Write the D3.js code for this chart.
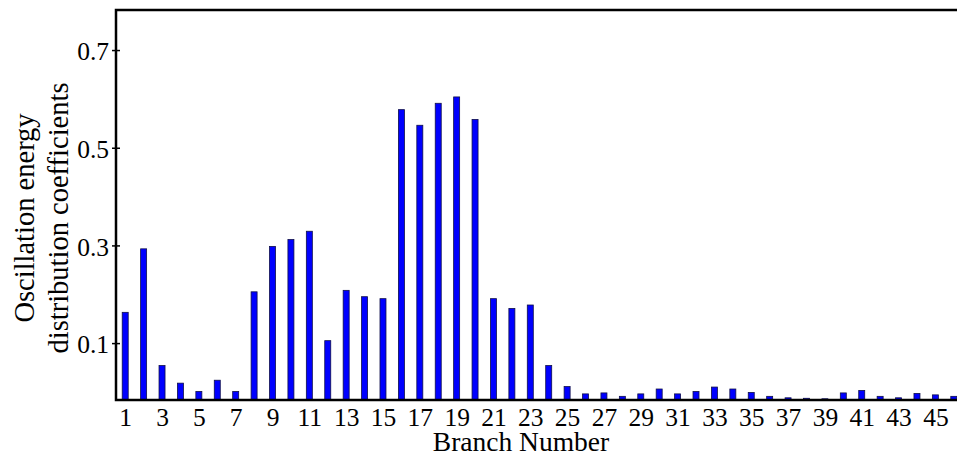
<!DOCTYPE html>
<html>
<head>
<meta charset="utf-8">
<script src="https://cdn.jsdelivr.net/npm/d3@7"></script>
<style>
  html, body { margin: 0; padding: 0; background: #fff; }
  svg { display: block; }
  text { font-family: "Liberation Serif", "DejaVu Serif", serif; fill: #000; }
</style>
</head>
<body>
<svg id="chart" width="957" height="456"></svg>
<script>
// branch numbers and their oscillation energy distribution coefficients
var branches = d3.range(1, 47);
var coeffs = [
  0.163, 0.293, 0.054, 0.018, 0.001, 0.024, 0.001, 0.205, 0.298, 0.312,
  0.329, 0.105, 0.208, 0.195, 0.191, 0.578, 0.546, 0.591, 0.604, 0.558,
  0.191, 0.171, 0.178, 0.054, 0.011, -0.004, -0.002, -0.009, -0.004, 0.006,
  -0.004, 0.001, 0.010, 0.006, -0.001, -0.009, -0.012, -0.013, -0.014, -0.002,
  0.003, -0.009, -0.012, -0.003, -0.006, -0.009
];
var yTicks = [0.1, 0.3, 0.5, 0.7];
var xTicks = d3.range(1, 47, 2);

var svg = d3.select("#chart");

var margin = { top: 10, right: -6, bottom: 56, left: 116 },
    width = 957 - margin.left - margin.right,
    height = 456 - margin.top - margin.bottom;

var x = d3.scaleLinear()
    .domain([0.5, 46.5])
    .range([margin.left, margin.left + width]);

var y = d3.scaleLinear()
    .domain([-0.0165, 0.782])
    .range([margin.top + height, margin.top]);

var barW = 6;

// bars
svg.append("g")
  .selectAll("rect")
  .data(coeffs)
  .join("rect")
    .attr("x", function (d, i) { return x(branches[i]) - barW / 2; })
    .attr("y", function (d) { return y(d); })
    .attr("width", barW)
    .attr("height", function (d) { return y(y.domain()[0]) - y(d); })
    .attr("fill", "#0000ff")
    .attr("stroke", "#10104a")
    .attr("stroke-width", 0.8);

// y axis
var yAxis = svg.append("g")
    .attr("transform", "translate(" + margin.left + ",0)")
    .call(d3.axisLeft(y)
      .tickValues(yTicks)
      .tickFormat(d3.format(".1f"))
      .tickSize(4)
      .tickPadding(3));
yAxis.select(".domain").remove();
yAxis.selectAll(".tick line").attr("stroke", "#000").attr("stroke-width", 1.5).attr("x2", 4).attr("x1", -4);
yAxis.selectAll(".tick text")
    .attr("font-size", 25.5)
    .attr("font-family", "Liberation Serif")
    .attr("dy", "0.38em")
    .attr("x", -7);

// x axis
var xAxis = svg.append("g")
    .attr("transform", "translate(0," + (margin.top + height) + ")")
    .call(d3.axisBottom(x)
      .tickValues(xTicks)
      .tickFormat(d3.format("d"))
      .tickSize(0)
      .tickPadding(8));
xAxis.select(".domain").remove();
xAxis.selectAll(".tick text")
    .attr("font-size", 25.5)
    .attr("font-family", "Liberation Serif")
    .attr("dy", "0.71em");

// frame: left, bottom, top
var x0 = margin.left, x1 = margin.left + width,
    yb = margin.top + height, yt = margin.top;
svg.append("path")
    .attr("d", "M" + x1 + "," + yt + "H" + x0 + "V" + yb + "H" + x1)
    .attr("fill", "none")
    .attr("stroke", "#000")
    .attr("stroke-width", 2.5);

// axis titles
svg.append("text")
    .attr("x", 521)
    .attr("y", 451)
    .attr("text-anchor", "middle")
    .attr("font-size", 27.5)
    .text("Branch Number");

var yl = svg.append("text")
    .attr("transform", "translate(0,218) rotate(-90)")
    .attr("text-anchor", "middle")
    .attr("font-size", 28.5);
yl.append("tspan").attr("x", 0).attr("y", 34).text("Oscillation energy");
yl.append("tspan").attr("x", 0).attr("y", 68).text("distribution coefficients");
</script>
</body>
</html>
